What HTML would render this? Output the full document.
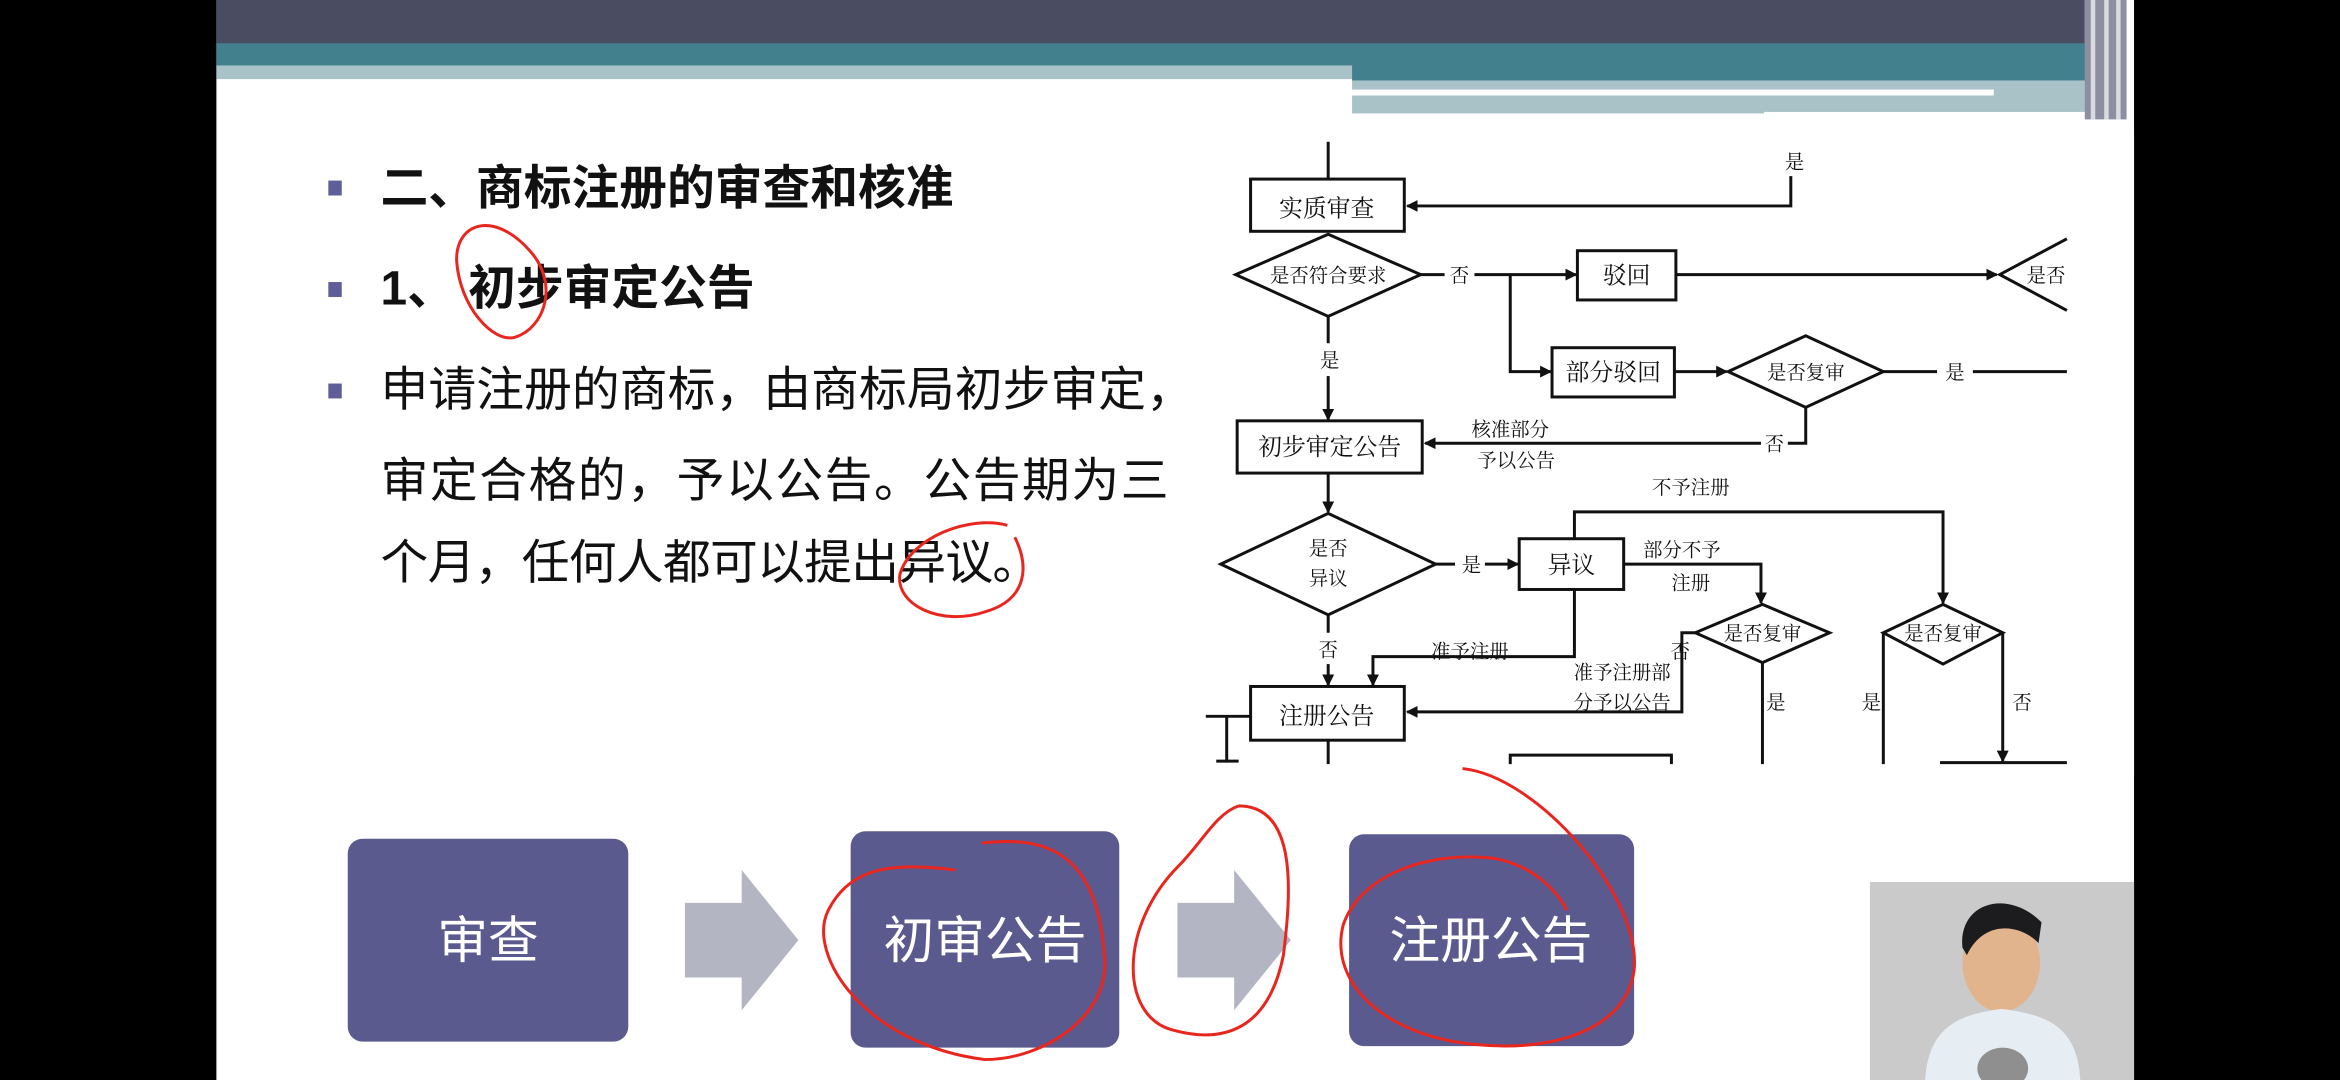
<!DOCTYPE html>
<html><head><meta charset="utf-8"><style>
html,body{margin:0;padding:0;background:#000;width:2340px;height:1080px;overflow:hidden}
svg{display:block}
.t{font-family:"Liberation Serif","Noto Serif CJK SC","Noto Sans CJK SC",serif;fill:#111}
.s{font-family:"Liberation Sans","Noto Sans CJK SC",sans-serif}
</style></head><body>
<svg width="2340" height="1080" viewBox="0 0 1568 723.7" xmlns="http://www.w3.org/2000/svg">
<rect x="0" y="0" width="1568" height="724" fill="#000"/>
<rect x="145" y="0" width="1285" height="724" fill="#fff"/>
<!-- top bars -->
<rect x="145" y="0" width="1252" height="30" fill="#4a4c62"/>
<rect x="145" y="29" width="762" height="15" fill="#43808e"/>
<rect x="145" y="44" width="762" height="9" fill="#a9c2c8"/>
<rect x="906" y="29" width="494" height="25" fill="#43808e"/>
<rect x="906" y="54" width="494" height="22" fill="#a9c2c8"/>
<rect x="906" y="60" width="430" height="4" fill="#fff"/>
<rect x="1182" y="75" width="218" height="5" fill="#fff"/>
<rect x="1397" y="0" width="28" height="80" fill="#8d8fa0"/>
<rect x="1401" y="0" width="3" height="80" fill="#d8dce0"/>
<rect x="1410" y="0" width="3" height="80" fill="#d8dce0"/>
<rect x="1418" y="0" width="3" height="80" fill="#d8dce0"/>

<!-- text -->
<g class="s" font-size="32">
<rect x="220" y="121" width="9" height="10" fill="#5f5e98"/>
<text x="255" y="137" font-weight="bold" fill="#111">二、商标注册的审查和核准</text>
<rect x="220" y="189" width="9" height="10" fill="#5f5e98"/>
<text x="255" y="204" font-weight="bold" fill="#111">1、 初步审定公告</text>
<rect x="220" y="257" width="9" height="10" fill="#5f5e98"/>
<text x="255" y="272" fill="#111" textLength="545">申请注册的商标，由商标局初步审定，</text>
<text x="255" y="333" fill="#111" textLength="528">审定合格的，予以公告。公告期为三</text>
<text x="255" y="388" fill="#111" textLength="442">个月，任何人都可以提出异议。</text>
</g>

<!-- flowchart -->
<defs><marker id="a" markerWidth="8" markerHeight="8" refX="7" refY="4" orient="auto" markerUnits="userSpaceOnUse"><path d="M0,0 L8,4 L0,8z" fill="#111"/></marker></defs>
<g stroke="#111" stroke-width="2" fill="none">
<line x1="890" y1="95" x2="890" y2="120"/>
<rect x="838" y="120" width="103" height="35" fill="#fff"/>
<polyline points="1200,118 1200,138 943,138" marker-end="url(#a)"/>
<polygon points="828,184 890,157 952,184 890,212" fill="#fff"/>
<line x1="952" y1="184" x2="968" y2="184"/>
<line x1="988" y1="184" x2="1056" y2="184" marker-end="url(#a)"/>
<rect x="1057" y="168" width="66" height="33"/>
<line x1="1123" y1="184" x2="1338" y2="184" marker-end="url(#a)"/>
<polyline points="1385,160 1340,184 1385,208"/>
<polyline points="1012,184 1012,249 1039,249" marker-end="url(#a)"/>
<rect x="1040" y="233" width="82" height="33"/>
<line x1="1122" y1="249" x2="1157" y2="249" marker-end="url(#a)"/>
<polygon points="1158,249 1210,225 1262,249 1210,273"/>
<line x1="1262" y1="249" x2="1298" y2="249"/>
<line x1="1322" y1="249" x2="1385" y2="249"/>
<polyline points="1210,273 1210,297 1198,297"/>
<line x1="1180" y1="297" x2="955" y2="297" marker-end="url(#a)"/>
<line x1="890" y1="212" x2="890" y2="230"/>
<line x1="890" y1="252" x2="890" y2="281" marker-end="url(#a)"/>
<rect x="829" y="282" width="124" height="35"/>
<line x1="890" y1="317" x2="890" y2="343" marker-end="url(#a)"/>
<polygon points="818,378 890,344 962,378 890,412"/>
<line x1="962" y1="378" x2="975" y2="378"/>
<line x1="995" y1="378" x2="1017" y2="378" marker-end="url(#a)"/>
<rect x="1018" y="361" width="70" height="34"/>
<polyline points="1055,361 1055,343 1302,343 1302,404" marker-end="url(#a)"/>
<polyline points="1088,378 1180,378 1180,404" marker-end="url(#a)"/>
<polygon points="1136,424 1181,405 1226,424 1181,444"/>
<polygon points="1262,424 1302,405 1342,424 1302,445"/>
<line x1="890" y1="412" x2="890" y2="424"/>
<line x1="890" y1="445" x2="890" y2="459" marker-end="url(#a)"/>
<polyline points="1055,395 1055,440 920,440 920,459" marker-end="url(#a)"/>
<polyline points="1136,424 1127,424 1127,477 943,477" marker-end="url(#a)"/>
<rect x="838" y="460" width="103" height="36"/>
<line x1="890" y1="496" x2="890" y2="512"/>
<line x1="808" y1="480" x2="838" y2="480"/>
<line x1="822" y1="480" x2="822" y2="511"/>
<line x1="815" y1="510" x2="830" y2="510"/>
<line x1="1181" y1="444" x2="1181" y2="512"/>
<line x1="1262" y1="424" x2="1262" y2="512"/>
<polyline points="1342,424 1342,510" marker-end="url(#a)"/>
<line x1="1300" y1="511" x2="1385" y2="511"/>
<polyline points="1012,512 1012,506 1120,506 1120,512"/>
</g>
<g class="t" font-size="13">
<text x="1196" y="113">是</text>
<text x="889" y="145" font-size="16" text-anchor="middle">实质审查</text>
<text x="890" y="189" text-anchor="middle">是否符合要求</text>
<text x="978" y="189" text-anchor="middle">否</text>
<text x="1090" y="190" font-size="16" text-anchor="middle">驳回</text>
<text x="1358" y="189">是否</text>
<text x="1081" y="255" font-size="16" text-anchor="middle">部分驳回</text>
<text x="1210" y="254" text-anchor="middle">是否复审</text>
<text x="1310" y="254" text-anchor="middle">是</text>
<text x="1189" y="302" text-anchor="middle">否</text>
<text x="986" y="292">核准部分</text>
<text x="990" y="313">予以公告</text>
<text x="891" y="246" text-anchor="middle">是</text>
<text x="891" y="305" font-size="16" text-anchor="middle">初步审定公告</text>
<text x="890" y="372" text-anchor="middle">是否</text>
<text x="890" y="392" text-anchor="middle">异议</text>
<text x="986" y="383" text-anchor="middle">是</text>
<text x="1053" y="384" font-size="16" text-anchor="middle">异议</text>
<text x="1133" y="331" text-anchor="middle">不予注册</text>
<text x="1127" y="373" text-anchor="middle">部分不予</text>
<text x="1133" y="395" text-anchor="middle">注册</text>
<text x="1181" y="429" text-anchor="middle">是否复审</text>
<text x="1302" y="429" text-anchor="middle">是否复审</text>
<text x="890" y="440" text-anchor="middle">否</text>
<text x="985" y="441" text-anchor="middle">准予注册</text>
<text x="1126" y="441" text-anchor="middle">否</text>
<text x="1087" y="455" text-anchor="middle">准予注册部</text>
<text x="1087" y="475" text-anchor="middle">分予以公告</text>
<text x="889" y="485" font-size="16" text-anchor="middle">注册公告</text>
<text x="1190" y="475" text-anchor="middle">是</text>
<text x="1254" y="475" text-anchor="middle">是</text>
<text x="1355" y="475" text-anchor="middle">否</text>
</g>
<rect x="1386" y="90" width="44" height="430" fill="#fff"/>

<!-- bottom process -->
<rect x="233" y="562" width="188" height="136" rx="10" fill="#5b5a8f"/>
<rect x="570" y="557" width="180" height="145" rx="10" fill="#5b5a8f"/>
<rect x="904" y="559" width="191" height="142" rx="10" fill="#5b5a8f"/>
<polygon points="459,605 497,605 497,583 535,630 497,677 497,655 459,655" fill="#b4b5c3"/>
<polygon points="789,605 827,605 827,583 865,630 827,677 827,655 789,655" fill="#b4b5c3"/>
<g class="s" font-size="34" fill="#fff" text-anchor="middle">
<text x="327" y="642">审查</text>
<text x="660" y="642">初审公告</text>
<text x="999" y="642">注册公告</text>
</g>

<!-- red annotations -->
<g stroke="#e8261e" stroke-width="2" fill="none">
<path d="M355,168 C330,140 305,150 306,175 C308,205 330,230 345,226 C365,220 375,190 355,168"/>
<path d="M675,352 C650,345 610,360 603,385 C600,405 630,420 660,410 C688,402 690,380 680,360"/>
<path d="M658,565 C700,560 735,570 740,640 C745,680 700,710 660,710 C580,700 540,640 555,610 C570,580 600,578 640,583"/>
<path d="M830,540 C870,540 865,600 860,640 C850,690 820,700 785,690 C750,680 750,620 790,580 C805,565 815,545 830,540"/>
<path d="M980,515 C1030,520 1100,600 1095,650 C1090,690 1040,705 990,700 C930,695 890,660 900,620 C910,590 950,570 1000,575 C1030,580 1045,600 1050,610"/>
</g>

<!-- webcam -->
<rect x="1253" y="591" width="177" height="133" fill="#c9cac9"/>
<ellipse cx="1341" cy="645" rx="26" ry="33" fill="#e2b48d"/>
<path d="M1315,635 C1312,605 1345,595 1368,618 L1366,632 C1355,620 1330,615 1318,640z" fill="#1c1c1e"/>
<path d="M1290,724 C1292,690 1310,680 1341,676 C1375,680 1392,690 1394,724z" fill="#e6edf3"/>
<ellipse cx="1342" cy="716" rx="17" ry="14" fill="#8f8f8f"/>
</svg>
</body></html>
